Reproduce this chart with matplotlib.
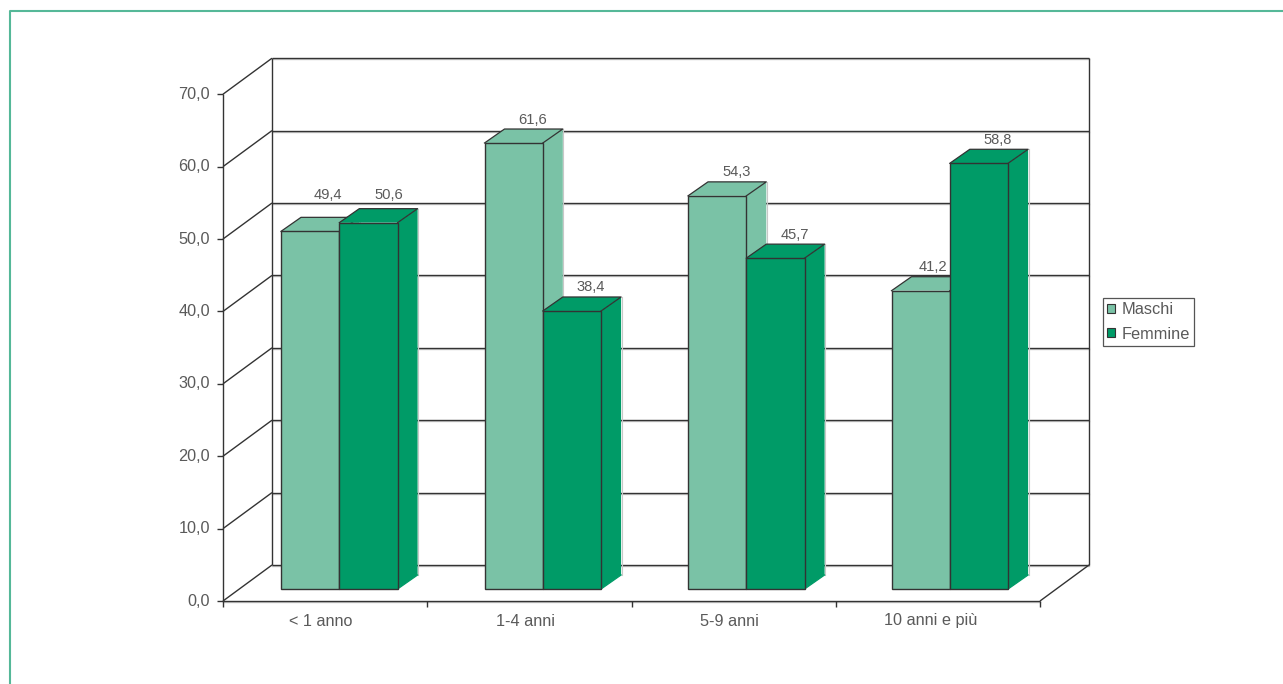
import matplotlib
matplotlib.use("Agg")
import matplotlib.pyplot as plt
from matplotlib.patches import Patch, Polygon, Rectangle

plt.rcParams["font.family"] = ["Liberation Sans", "DejaVu Sans"]

CATEGORIES = ["< 1 anno", "1-4 anni", "5-9 anni", "10 anni e più"]
SERIES_NAMES = ["Maschi", "Femmine"]
MASCHI = [49.4, 61.6, 54.3, 41.2]
FEMMINE = [50.6, 38.4, 45.7, 58.8]
Y_TICKS = [0, 10, 20, 30, 40, 50, 60, 70]

LIGHT = "#7AC2A6"
DARK = "#009B67"
EDGE = "#333333"
SHADOW = "#c8c8c8"
TEXT = "#5a5a5a"
FRAME = "#55B898"

# pixel size of one category / one y unit on the front plane
PX_CAT = 204.25
PX_VAL = 7.24
X0_PX = 223
Y0_PX = 601
W, H = 1283, 684

# wall depth and bar depth, converted to data units
WALL_DX = 49 / PX_CAT
WALL_DY = 36 / PX_VAL
BAR_DX = 20 / PX_CAT
BAR_DY = 14 / PX_VAL
BAR_BASE = 12 / PX_VAL
BAR_W = 58.3 / PX_CAT
GROUP_PAD = 58 / PX_CAT
GROUP_STEP = 203.5 / PX_CAT


def draw_bar(ax, x, value, color):
    top = BAR_BASE + value
    right = x + BAR_W
    # side and top faces carry no outline of their own, like the reference
    ax.add_patch(Polygon([(right, BAR_BASE), (right + BAR_DX, BAR_BASE + BAR_DY),
                          (right + BAR_DX, top + BAR_DY), (right, top)],
                         facecolor=color, edgecolor="none", zorder=3))
    ax.add_patch(Polygon([(x, top), (x + BAR_DX, top + BAR_DY),
                          (right + BAR_DX, top + BAR_DY), (right, top)],
                         facecolor=color, edgecolor="none", zorder=3))
    ax.plot([right + BAR_DX + 0.5 / PX_CAT] * 2, [BAR_BASE + BAR_DY, top + BAR_DY],
            color=SHADOW, linewidth=0.8, zorder=2.9)
    ax.plot([x, x + BAR_DX, right + BAR_DX, right], [top, top + BAR_DY, top + BAR_DY, top],
            color=EDGE, linewidth=0.9, zorder=3)
    ax.plot([right, right + BAR_DX], [BAR_BASE, BAR_BASE + BAR_DY],
            color=color, linewidth=0.9, zorder=3)
    ax.add_patch(Rectangle((x, BAR_BASE), BAR_W, value, facecolor=color, edgecolor=EDGE,
                           linewidth=1, zorder=3))


def shaded(ax, xs, ys, **line):
    # the printed rules have a faint grey shadow just below them
    ax.plot(xs, [y - 1 / PX_VAL for y in ys], color=SHADOW, linewidth=1, zorder=0.5)
    ax.plot(xs, ys, **line)


def main():
    fig = plt.figure(figsize=(W / 100, H / 100), dpi=100)
    ax = fig.add_axes([0, 0, 1, 1])
    ax.set_xlim(-X0_PX / PX_CAT, (W - X0_PX) / PX_CAT)
    ax.set_ylim((Y0_PX - H) / PX_VAL, Y0_PX / PX_VAL)
    ax.axis("off")

    # outer frame, open at the right and bottom edges of the picture
    ax.plot([9.5 / W, 9.5 / W, 1], [0, 1 - 11 / H, 1 - 11 / H], transform=ax.transAxes,
            color=FRAME, linewidth=1.5, clip_on=False)

    n = len(CATEGORIES)
    top_val = Y_TICKS[-1]
    line = dict(color=EDGE, linewidth=1, solid_capstyle="butt", zorder=1)

    # walls and grid
    for v in Y_TICKS:
        ax.plot([0, WALL_DX], [v, v + WALL_DY], **line)
        shaded(ax, [WALL_DX, n + WALL_DX], [v + WALL_DY, v + WALL_DY], **line)
        ax.plot([-6 / PX_CAT, 0], [v, v], **line)
        ax.text(-13 / PX_CAT, v, "{:.1f}".format(v).replace(".", ","), ha="right", va="center",
                fontsize=11.7, color=TEXT)
    ax.plot([0, 0], [0, top_val], **line)
    ax.plot([WALL_DX, WALL_DX], [WALL_DY, top_val + WALL_DY], **line)
    ax.plot([n + WALL_DX, n + WALL_DX], [WALL_DY, top_val + WALL_DY], **line)
    ax.plot([n, n + WALL_DX], [0, WALL_DY], **line)
    shaded(ax, [0, n], [0, 0], **line)

    # x axis
    for i in range(n + 1):
        ax.plot([i, i], [0, -6 / PX_VAL], **line)
    label_shift = [-4, -4, -4, -7]
    for i, name in enumerate(CATEGORIES):
        ax.text(i + 0.5 + label_shift[i] / PX_CAT, -20 / PX_VAL, name, ha="center", va="center",
                fontsize=11.7, color=TEXT)

    # bars; a few value labels sit off the regular spot in the reference
    label_nudge = {(0, 0): (-1, -13), (0, 1): (1, -4), (3, 0): (-7, 0)}
    for i in range(n):
        for j, (values, color) in enumerate(((MASCHI, LIGHT), (FEMMINE, DARK))):
            x = i * GROUP_STEP + GROUP_PAD + j * BAR_W
            draw_bar(ax, x, values[i], color)
            nx, ny = label_nudge.get((i, j), (0, 0))
            ax.text(x + BAR_W / 2 + (19 + nx) / PX_CAT, BAR_BASE + values[i] + (23.5 - ny) / PX_VAL,
                    "{:.1f}".format(values[i]).replace(".", ","), ha="center", va="center",
                    fontsize=10.6, color=TEXT, zorder=4)

    handles = [Patch(facecolor=LIGHT, edgecolor=EDGE, linewidth=0.8),
               Patch(facecolor=DARK, edgecolor=EDGE, linewidth=0.8)]
    leg = ax.legend(handles, SERIES_NAMES, loc="center left",
                    bbox_to_anchor=(1103 / W, 1 - 322 / H), fontsize=11.8, labelcolor=TEXT,
                    frameon=True, fancybox=False, framealpha=1, edgecolor="#555555",
                    handlelength=0.49, handleheight=0.49, handletextpad=0.37, labelspacing=0.55,
                    borderpad=0.27, borderaxespad=0)
    leg.get_frame().set_linewidth(0.9)

    fig.savefig("out.png", dpi=100)


if __name__ == "__main__":
    main()
